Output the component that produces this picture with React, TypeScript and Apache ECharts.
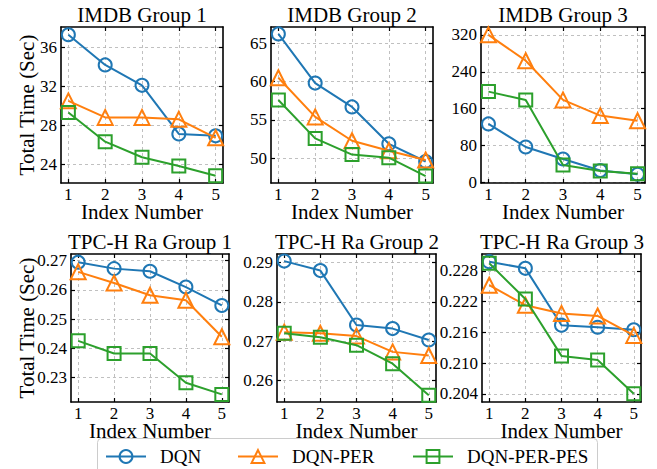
import React, { useEffect, useRef } from "react";
import * as echarts from "echarts";

// ---- data ----
const indexNumbers = [1, 2, 3, 4, 5];
const seriesNames = ["DQN", "DQN-PER", "DQN-PER-PES"];

const imdb1Dqn = [37.3, 34.2, 32.1, 27.1, 26.9];
const imdb1Per = [30.5, 28.8, 28.8, 28.6, 26.7];
const imdb1Pes = [29.3, 26.3, 24.7, 23.8, 22.8];

const imdb2Dqn = [66.2, 59.8, 56.7, 51.9, 49.6];
const imdb2Per = [60.5, 55.4, 52.3, 51.0, 49.8];
const imdb2Pes = [57.6, 52.6, 50.5, 50.1, 47.7];

const imdb3Dqn = [127, 77, 51, 26, 18];
const imdb3Per = [320, 264, 179, 145, 134];
const imdb3Pes = [197, 179, 38, 25, 19];

const tpch1Dqn = [0.2695, 0.2673, 0.2664, 0.261, 0.2547];
const tpch1Per = [0.2662, 0.2624, 0.2582, 0.2565, 0.244];
const tpch1Pes = [0.2426, 0.2383, 0.2383, 0.2283, 0.2243];

const tpch2Dqn = [0.2903, 0.2879, 0.2741, 0.2732, 0.2703];
const tpch2Per = [0.2723, 0.272, 0.2713, 0.2673, 0.2664];
const tpch2Pes = [0.272, 0.271, 0.269, 0.2643, 0.2563];

const tpch3Dqn = [0.2298, 0.2285, 0.2174, 0.217, 0.2165];
const tpch3Per = [0.2252, 0.2213, 0.2197, 0.2192, 0.2154];
const tpch3Pes = [0.2295, 0.2225, 0.2114, 0.2106, 0.204];

const panelTitles = [
  "IMDB Group 1",
  "IMDB Group 2",
  "IMDB Group 3",
  "TPC-H Ra Group 1",
  "TPC-H Ra Group 2",
  "TPC-H Ra Group 3",
];

const yTicks1 = [24, 28, 32, 36];
const yTickLabels1 = ["24", "28", "32", "36"];
const yTicks2 = [50, 55, 60, 65];
const yTickLabels2 = ["50", "55", "60", "65"];
const yTicks3 = [0, 80, 160, 240, 320];
const yTickLabels3 = ["0", "80", "160", "240", "320"];
const yTicks4 = [0.23, 0.24, 0.25, 0.26, 0.27];
const yTickLabels4 = ["0.23", "0.24", "0.25", "0.26", "0.27"];
const yTicks5 = [0.26, 0.27, 0.28, 0.29];
const yTickLabels5 = ["0.26", "0.27", "0.28", "0.29"];
const yTicks6 = [0.204, 0.21, 0.216, 0.222, 0.228];
const yTickLabels6 = ["0.204", "0.210", "0.216", "0.222", "0.228"];
const xTickLabels = ["1", "2", "3", "4", "5"];

// ---- layout / style ----
const FONT = "Liberation Serif";
const COLORS = ["#1f77b4", "#ff7f0e", "#2ca02c"];
const SYMBOLS = ["circle", "triangle", "rect"];
const SYMBOL_SIZES = [13, 15, 13];

const panels = [
  { grid: { left: 61, top: 27, width: 162, height: 156 }, y: [22.05, 38.1], ticks: yTicks1, labels: yTickLabels1, data: [imdb1Dqn, imdb1Per, imdb1Pes], ylabel: true },
  { grid: { left: 271, top: 27, width: 162, height: 156 }, y: [46.8, 67.1], ticks: yTicks2, labels: yTickLabels2, data: [imdb2Dqn, imdb2Per, imdb2Pes], ylabel: false },
  { grid: { left: 481, top: 27, width: 164, height: 156 }, y: [-1, 337], ticks: yTicks3, labels: yTickLabels3, data: [imdb3Dqn, imdb3Per, imdb3Pes], ylabel: false },
  { grid: { left: 71, top: 254, width: 158, height: 148 }, y: [0.2217, 0.2723], ticks: yTicks4, labels: yTickLabels4, data: [tpch1Dqn, tpch1Per, tpch1Pes], ylabel: true },
  { grid: { left: 277, top: 254, width: 159, height: 148 }, y: [0.2546, 0.2921], ticks: yTicks5, labels: yTickLabels5, data: [tpch2Dqn, tpch2Per, tpch2Pes], ylabel: false },
  { grid: { left: 482, top: 254, width: 159, height: 148 }, y: [0.2024, 0.2313], ticks: yTicks6, labels: yTickLabels6, data: [tpch3Dqn, tpch3Per, tpch3Pes], ylabel: false },
];

function labelFor(ticks: number[], labels: string[]) {
  return (v: number) => {
    let best = 0;
    for (let i = 0; i < ticks.length; i++) {
      if (Math.abs(ticks[i] - v) < Math.abs(ticks[best] - v)) best = i;
    }
    return labels[best];
  };
}

function buildOption() {
  const grid: any[] = [];
  const xAxis: any[] = [];
  const yAxis: any[] = [];
  const series: any[] = [];
  const title: any[] = [];

  const axisLine = { show: true, onZero: false, lineStyle: { color: "#000", width: 1.6 } };
  const tickStyle = { color: "#000", width: 1.2 };
  const gridLine = { show: true, lineStyle: { color: "#b0b0b0", width: 0.8, type: [3, 3] } };
  const labelText = { fontFamily: FONT, fontSize: 17, fontWeight: "normal", color: "#000" };

  panels.forEach((p, i) => {
    grid.push({ ...p.grid, containLabel: false });
    title.push({
      text: panelTitles[i],
      left: Math.round(p.grid.left + p.grid.width / 2),
      top: p.grid.top - 23,
      textAlign: "center",
      padding: 0,
      textStyle: { fontFamily: FONT, fontSize: 21, fontWeight: "normal", color: "#000" },
    });
    // bottom x
    xAxis.push({
      gridIndex: i,
      type: "value",
      position: "bottom",
      min: 0.8,
      max: 5.2,
      axisLine,
      axisTick: { show: true, inside: true, length: 4, customValues: indexNumbers, lineStyle: tickStyle },
      axisLabel: { show: true, margin: 3, customValues: indexNumbers, formatter: labelFor(indexNumbers, xTickLabels), ...labelText },
      splitLine: gridLine,
      name: "Index Number",
      nameLocation: "middle",
      nameGap: 18,
      nameMoveOverlap: false,
      nameTextStyle: { fontFamily: FONT, fontSize: 21, fontWeight: "normal", color: "#000", verticalAlign: "top" },
    });
    // top x
    xAxis.push({
      gridIndex: i,
      type: "value",
      position: "top",
      min: 0.8,
      max: 5.2,
      axisLine,
      axisTick: { show: true, inside: true, length: 4, customValues: indexNumbers, lineStyle: tickStyle },
      axisLabel: { show: false },
      splitLine: { show: false },
    });
    // left y
    yAxis.push({
      gridIndex: i,
      type: "value",
      position: "left",
      min: p.y[0],
      max: p.y[1],
      axisLine,
      axisTick: { show: true, inside: true, length: 4, customValues: p.ticks, lineStyle: tickStyle },
      axisLabel: { show: true, margin: 4, customValues: p.ticks, formatter: labelFor(p.ticks, p.labels), ...labelText },
      splitLine: gridLine,
      name: p.ylabel ? "Total Time (Sec)" : "",
      nameLocation: "middle",
      nameGap: i === 0 ? 24 : 34,
      nameMoveOverlap: false,
      nameTextStyle: { fontFamily: FONT, fontSize: 21, fontWeight: "normal", color: "#000" },
    });
    // right y
    yAxis.push({
      gridIndex: i,
      type: "value",
      position: "right",
      min: p.y[0],
      max: p.y[1],
      axisLine,
      axisTick: { show: true, inside: true, length: 4, customValues: p.ticks, lineStyle: tickStyle },
      axisLabel: { show: false },
      splitLine: { show: false },
    });

    p.data.forEach((vals, s) => {
      series.push({
        name: seriesNames[s],
        type: "line",
        xAxisIndex: 2 * i,
        yAxisIndex: 2 * i,
        data: indexNumbers.map((x, k) => [x, vals[k]]),
        symbol: SYMBOLS[s],
        symbolSize: SYMBOL_SIZES[s],
        showAllSymbol: true,
        lineStyle: { color: COLORS[s], width: 2 },
        itemStyle: { color: "rgba(255,255,255,0)", borderColor: COLORS[s], borderWidth: 2 },
        emphasis: { disabled: true },
        z: 3 + s,
      });
    });
  });

  const legendX = [105, 237, 412];
  const legend = seriesNames.map((n, s) => ({
    data: [n],
    left: legendX[s],
    top: 447,
    orient: "horizontal",
    padding: 0,
    itemWidth: 40,
    itemHeight: 16,
    selectedMode: false,
    textStyle: { fontFamily: FONT, fontSize: 19, fontWeight: "normal", color: "#000", padding: [0, 0, 0, 9] },
    z: 20,
  }));

  return {
    animation: false,
    backgroundColor: "#fff",
    textStyle: { fontFamily: FONT },
    title,
    grid,
    xAxis,
    yAxis,
    series,
    legend,
    graphic: [
      {
        type: "rect",
        shape: { x: 97.5, y: 438.5, width: 500, height: 40, r: 4 },
        style: { fill: "rgba(255,255,255,0.85)", stroke: "#cccccc", lineWidth: 1 },
        z: 10,
      },
    ],
  };
}

export default function App() {
  const ref = useRef<HTMLDivElement>(null);
  useEffect(() => {
    if (!ref.current) return;
    const chart = echarts.init(ref.current, null, { renderer: "svg" });
    chart.setOption(buildOption() as any);
    return () => chart.dispose();
  }, []);
  return (
    <div
      ref={ref}
      style={{ position: "absolute", left: 0, top: 0, width: 657, height: 469 }}
    />
  );
}
